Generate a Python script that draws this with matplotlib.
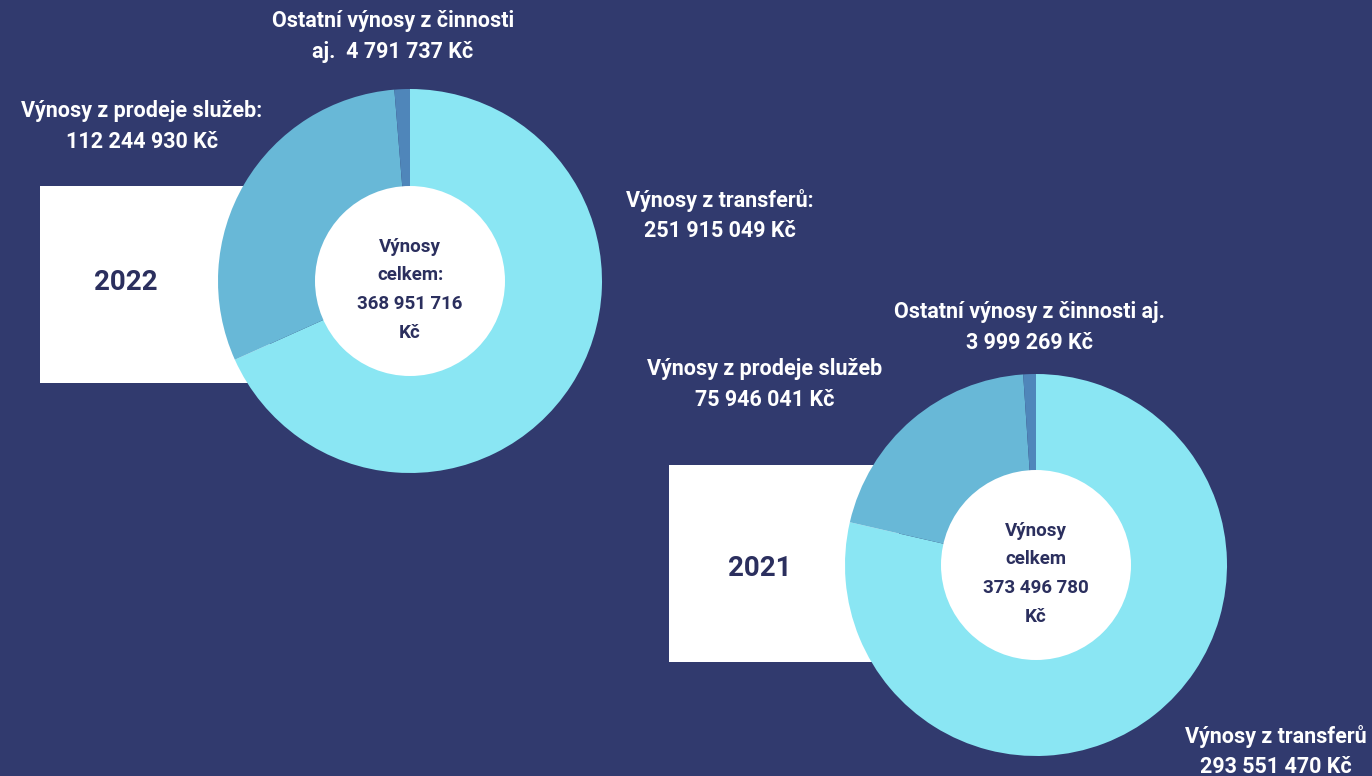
import numpy as np
import matplotlib
matplotlib.use("Agg")
import matplotlib.pyplot as plt
from matplotlib.patches import Rectangle, Circle

# data
categories = ["Výnosy z transferů", "Výnosy z prodeje služeb", "Ostatní výnosy z činnosti aj."]
values_2022 = [251915049, 112244930, 4791737]
values_2021 = [293551470, 75946041, 3999269]
total_2022 = "368 951 716"
total_2021 = "373 496 780"

BG = "#313a6e"
NAVY = "#2b2f5e"
colors = ["#8ae6f3", "#68b8d7", "#4f86ba"]

W, H = 1372, 776
fig = plt.figure(figsize=(W / 100, H / 100), dpi=100, facecolor=BG)
ax = fig.add_axes([0, 0, 1, 1])
ax.set_facecolor(BG)

plt.rcParams['font.family'] = ['Roboto', 'DejaVu Sans']


def Y(y):
    # image y (top-down) -> data y
    return H - y


def donut(vals, cx, cy, r, r_in, total, sep, year, box, ypos):
    bx, by, bw, bh = box
    ax.add_patch(Rectangle((bx, Y(by + bh)), bw, bh, facecolor="white", edgecolor="none", zorder=1))
    ax.text(ypos[0], Y(ypos[1]), year, ha="center", va="center", fontsize=20,
            fontweight="bold", color=NAVY, zorder=2)
    ax.pie(vals, colors=colors, startangle=90, counterclock=False, center=(cx, Y(cy)),
           radius=r, frame=True, wedgeprops=dict(linewidth=0, zorder=3))
    ax.add_patch(Circle((cx, Y(cy)), r_in, facecolor="white", edgecolor="none", zorder=4))
    lines = ["Výnosy", "celkem" + sep, total, "Kč"]
    for i, t in enumerate(lines):
        ax.text(cx, Y(cy - 34 + i * 28.5), t, ha="center", va="center", fontsize=13.5,
                fontweight="bold", color=NAVY, zorder=5)


donut(values_2022, 410, 281, 192, 95, total_2022, ":", "2022", (40, 186, 230, 197), (126, 283))
donut(values_2021, 1036, 565, 191, 95, total_2021, "", "2021", (669, 465, 230, 197), (760, 569))


def label(x, y, l1, l2):
    ax.text(x, Y(y), l1, ha="center", va="center", fontsize=15.5, fontweight="bold", color="white")
    ax.text(x, Y(y + 31), l2, ha="center", va="center", fontsize=15.5, fontweight="bold", color="white")


fmt = lambda v: f"{v:,}".replace(",", " ") + " Kč"

label(393, 21, "Ostatní výnosy z činnosti", "aj.  " + fmt(values_2022[2]))
label(142, 111, "Výnosy z prodeje služeb:", fmt(values_2022[1]))
label(720, 200, "Výnosy z transferů:", fmt(values_2022[0]))

label(1029, 312, "Ostatní výnosy z činnosti aj.", fmt(values_2021[2]))
label(765, 369, "Výnosy z prodeje služeb", fmt(values_2021[1]))
label(1276, 736, "Výnosy z transferů", fmt(values_2021[0]))

ax.set_xlim(0, W)
ax.set_ylim(0, H)
ax.set_aspect("auto")
ax.axis("off")

fig.savefig("out.png", dpi=100, facecolor=BG)
